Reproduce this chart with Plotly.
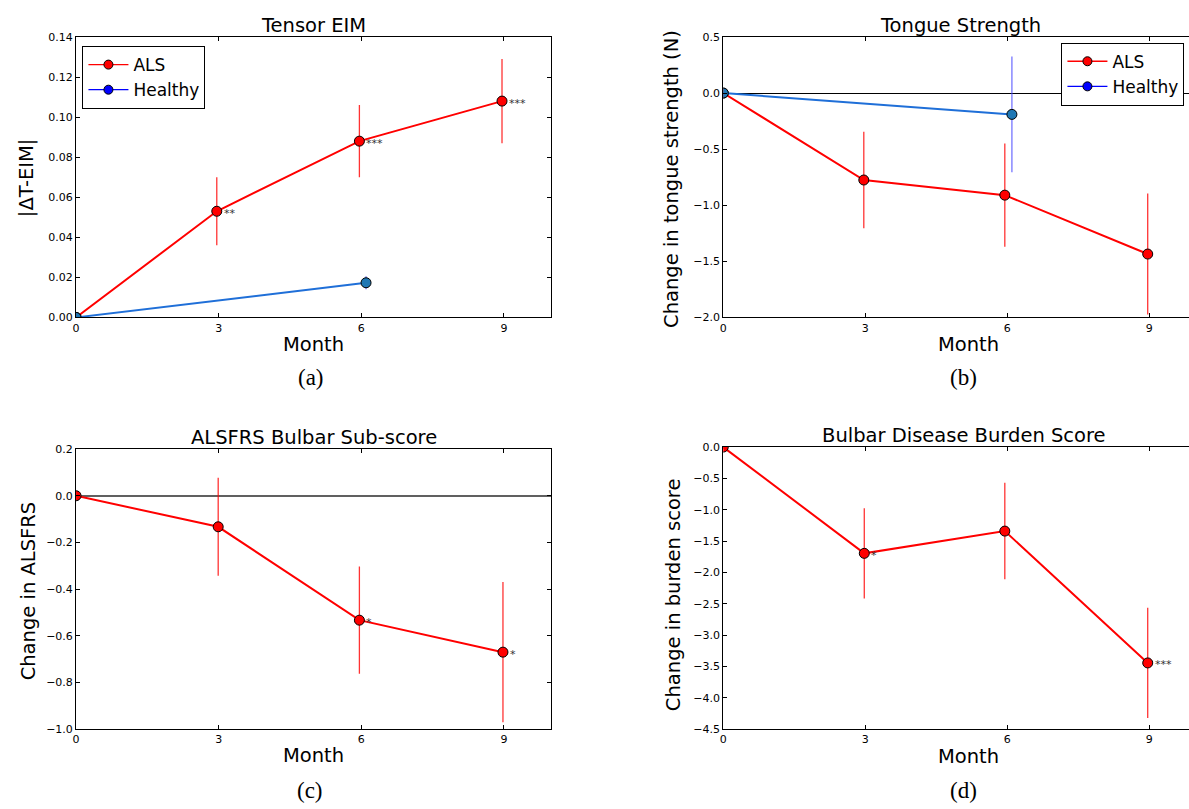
import plotly.graph_objects as go

# Month positions (ALS points are nudged slightly left, Healthy slightly right)
als_month_a = [0, 2.96, 5.96, 8.96]
als_month_b = [0, 2.97, 5.95, 8.97]
als_month_c = [0, 2.99, 5.96, 8.98]
als_month_d = [0, 2.98, 5.95, 8.97]
healthy_month = [0, 6.1]

# Panel (a): Tensor EIM
als_eim = [0, 0.053, 0.088, 0.108]
als_eim_err = [0, 0.017, 0.018, 0.021]
healthy_eim = [0, 0.0173]
healthy_eim_err = [0, 0.0033]
stars_eim = ["", "**", "***", "***"]

# Panel (b): Tongue Strength
als_tongue = [0, -0.775, -0.91, -1.435]
als_tongue_err = [0, 0.43, 0.46, 0.54]
healthy_tongue = [0, -0.19]
healthy_tongue_err = [0, 0.515]

# Panel (c): ALSFRS bulbar sub-score
als_alsfrs = [0, -0.133, -0.533, -0.67]
als_alsfrs_err = [0, 0.21, 0.23, 0.30]
stars_alsfrs = ["", "", "*", "*"]

# Panel (d): Bulbar disease burden score
als_burden = [0, -1.695, -1.34, -3.443]
als_burden_err = [0, 0.72, 0.77, 0.88]
stars_burden = ["", "*", "", "***"]

month_ticks = [0, 3, 6, 9]

W, H = 1189, 809
FONT = "DejaVu Sans"
RED = "#ff0000"
ALS_ERR = "rgba(255,0,0,0.8)"
H_LINE = "#1f6fd8"
H_FILL = "#1f77b4"
H_ERR = "rgba(70,70,255,0.75)"


def px_x(p):
    return p / W


def px_y(p):
    return 1 - p / H


fig = go.Figure()


def als_trace(xs, ys, errs, xa, ya):
    return go.Scatter(
        x=xs, y=ys, mode="lines+markers", xaxis=xa, yaxis=ya, showlegend=False,
        line=dict(color=RED, width=2),
        marker=dict(size=10, color=RED, line=dict(color="black", width=1)),
        error_y=dict(type="data", array=errs, visible=True, width=0,
                     thickness=1.3, color=ALS_ERR),
    )


def healthy_trace(xs, ys, errs, xa, ya):
    return go.Scatter(
        x=xs, y=ys, mode="lines+markers", xaxis=xa, yaxis=ya, showlegend=False,
        line=dict(color=H_LINE, width=2),
        marker=dict(size=10, color=H_FILL, line=dict(color="black", width=1)),
        error_y=dict(type="data", array=errs, visible=True, width=0,
                     thickness=1.3, color=H_ERR),
    )


fig.add_trace(als_trace(als_month_a, als_eim, als_eim_err, "x", "y"))
fig.add_trace(healthy_trace(healthy_month, healthy_eim, healthy_eim_err, "x", "y"))
fig.add_trace(als_trace(als_month_b, als_tongue, als_tongue_err, "x2", "y2"))
fig.add_trace(healthy_trace(healthy_month, healthy_tongue, healthy_tongue_err, "x2", "y2"))
fig.add_trace(als_trace(als_month_c, als_alsfrs, als_alsfrs_err, "x3", "y3"))
fig.add_trace(als_trace(als_month_d, als_burden, als_burden_err, "x4", "y4"))

# Legend entries (legend swatches use pure red / pure blue)
for lg, xa, ya in (("legend", "x", "y"), ("legend2", "x2", "y2")):
    fig.add_trace(go.Scatter(
        x=[None], y=[None], mode="lines+markers", name="ALS", legend=lg,
        xaxis=xa, yaxis=ya,
        line=dict(color=RED, width=1.3),
        marker=dict(size=9, color=RED, line=dict(color="black", width=1))))
    fig.add_trace(go.Scatter(
        x=[None], y=[None], mode="lines+markers", name="Healthy", legend=lg,
        xaxis=xa, yaxis=ya,
        line=dict(color="#0000ff", width=1.3),
        marker=dict(size=9, color="#0000ff", line=dict(color="black", width=1))))

# Panel geometry in pixels
left_x = (72.3, 549.3)
right_x = (721.7, 1189)
top_y = (31.5, 316.5)
bot_y_c = (450.3, 735)
bot_y_d = (448.3, 735)

tickfont = dict(family=FONT, size=11, color="black")


def xaxis_cfg(dom, rng, anchor):
    return dict(domain=[px_x(dom[0]), px_x(dom[1])], range=rng, anchor=anchor,
                tickvals=month_ticks, ticks="inside", ticklen=4, tickcolor="black",
                showline=True, linecolor="black", linewidth=1, mirror="allticks",
                showgrid=False, zeroline=False, tickfont=tickfont, fixedrange=True)


def yaxis_cfg(dom, rng, dtick, fmt, anchor, mirror="allticks", zl=False,
              zlcolor="black", zlwidth=1):
    return dict(domain=[px_y(dom[1]), px_y(dom[0])], range=rng, anchor=anchor,
                dtick=dtick, tick0=0, tickformat=fmt, ticks="inside", ticklen=4,
                tickcolor="black", showline=True, linecolor="black", linewidth=1,
                mirror=mirror, showgrid=False, zeroline=zl, zerolinecolor=zlcolor,
                zerolinewidth=zlwidth, tickfont=tickfont, fixedrange=True)


x_right_max = (right_x[1] - right_x[0]) / ((1149 - right_x[0]) / 9)

fig.update_layout(
    width=W, height=H,
    margin=dict(l=0, r=0, t=0, b=0),
    paper_bgcolor="white", plot_bgcolor="white",
    xaxis=xaxis_cfg(left_x, [0, 10], "y"),
    yaxis=yaxis_cfg(top_y, [0, 0.14], 0.02, ".2f", "x"),
    xaxis2=xaxis_cfg(right_x, [0, x_right_max], "y2"),
    yaxis2=yaxis_cfg(top_y, [-2.0, 0.5], 0.5, ".1f", "x2", mirror=False,
                     zl=True, zlcolor="black", zlwidth=1),
    xaxis3=xaxis_cfg(left_x, [0, 10], "y3"),
    yaxis3=yaxis_cfg(bot_y_c, [-1.0, 0.2], 0.2, ".1f", "x3",
                     zl=True, zlcolor="#606060", zlwidth=1.8),
    xaxis4=xaxis_cfg(right_x, [0, x_right_max], "y4"),
    yaxis4=yaxis_cfg(bot_y_d, [-4.5, 0.0], 0.5, ".1f", "x4", mirror=False),
    legend=dict(x=px_x(78.7), y=px_y(40.7), xanchor="left", yanchor="top",
                bgcolor="white", bordercolor="black", borderwidth=1,
                font=dict(family=FONT, size=17, color="black"),
                itemwidth=40, tracegroupgap=0),
    legend2=dict(x=px_x(1061), y=px_y(37.3), xanchor="left", yanchor="top",
                 bgcolor="white", bordercolor="black", borderwidth=1,
                 font=dict(family=FONT, size=17, color="black"),
                 itemwidth=40, tracegroupgap=0),
    showlegend=True,
)

annotations = []


def text(x, y, s, size, family=FONT, angle=0):
    annotations.append(dict(
        x=px_x(x), y=px_y(y), xref="paper", yref="paper", text=s,
        showarrow=False, xanchor="center", yanchor="middle", textangle=angle,
        font=dict(family=family, size=size, color="black")))


# Panel titles
text(311, 20, "Tensor EIM", 19.5)
text(960, 20, "Tongue Strength", 19.5)
text(311, 439, "ALSFRS Bulbar Sub-score", 19.5)
text(963, 437, "Bulbar Disease Burden Score", 19.5)

# X axis titles
text(311, 344, "Month", 19.5)
text(968, 344, "Month", 19.5)
text(311, 762, "Month", 19.5)
text(968, 763, "Month", 19.5)

# Panel letters
text(308, 378, "(a)", 23, family="Liberation Serif")
text(963, 378, "(b)", 23, family="Liberation Serif")
text(307, 797, "(c)", 23, family="Liberation Serif")
text(963, 797, "(d)", 23, family="Liberation Serif")

# Y axis titles
text(22, 174, "|ΔT-EIM|", 19.5, angle=-90)
text(669, 176, "Change in tongue strength (N)", 19.5, angle=-90)
text(25, 594, "Change in ALSFRS", 19.5, angle=-90)
text(672, 598, "Change in burden score", 19.5, angle=-90)


# Significance markers beside ALS points
def stars(xs, ys, labels, xa, ya):
    for xv, yv, s in zip(xs, ys, labels):
        if s:
            annotations.append(dict(
                x=xv, y=yv, xref=xa, yref=ya, text=s, showarrow=False,
                xanchor="left", yanchor="middle", xshift=5, yshift=-2,
                font=dict(family=FONT, size=11, color="#333333")))


stars(als_month_a, als_eim, stars_eim, "x", "y")
stars(als_month_c, als_alsfrs, stars_alsfrs, "x3", "y3")
stars(als_month_d, als_burden, stars_burden, "x4", "y4")

fig.update_layout(annotations=annotations)

fig.write_html("out.html")
